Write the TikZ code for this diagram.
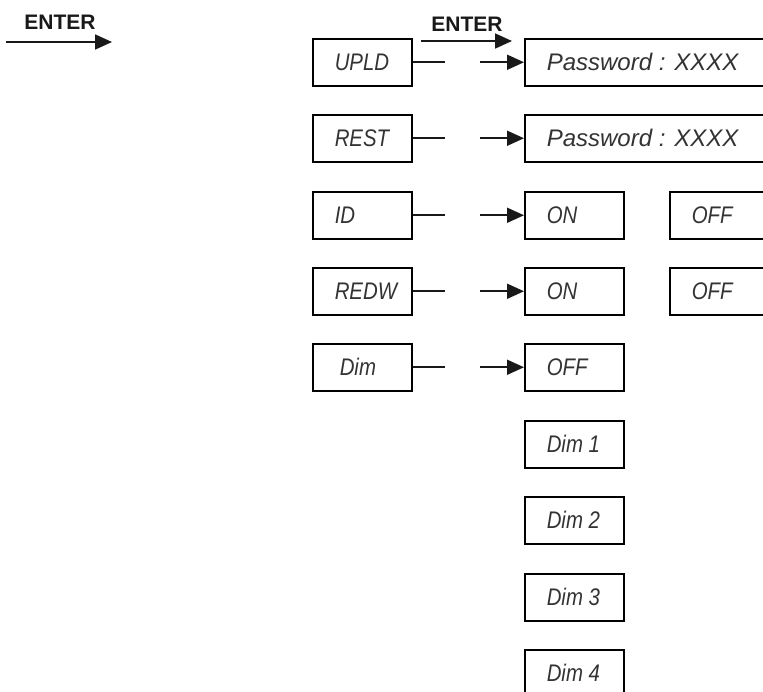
\documentclass[tikz,border=0pt]{standalone}
\usepackage{fontspec}
\setsansfont{Liberation Sans}
\newfontfamily\lcdnarrow[FakeStretch=0.85]{Liberation Sans}
\usetikzlibrary{arrows.meta}
\tikzset{
  lcdbox/.style={draw=black, line width=1.5pt, inner sep=0pt, minimum height=47pt, anchor=north west,
    font=\lcdnarrow\itshape\fontsize{24}{28}\selectfont, text=black!80},
  widebox/.style={lcdbox, font=\sffamily\itshape\fontsize{24}{28}\selectfont},
  conn/.style={line width=1.8pt, draw=black!90},
  arr/.style={conn, -{Triangle[length=17pt,width=15pt]}},
  enterlbl/.style={font=\sffamily\bfseries\fontsize{21}{25}\selectfont, text=black!90, inner sep=0pt}
}
\newcommand\lcdtxt[2]{\makebox[#1][l]{\hspace{22pt}#2}}
\begin{document}
\begin{tikzpicture}[x=1pt,y=-1pt]
\useasboundingbox (0,0) rectangle (763,691);
\clip (0,0) rectangle (763,691);
% top-left legend
\node[enterlbl] (enterA) at (60,22) {ENTER};
\coordinate (eaS) at (6,42);
\coordinate (eaE) at (112,42);
\draw[arr] (eaS) -- (eaE);
% second ENTER
\node[enterlbl] (enterB) at (467,24) {ENTER};
\coordinate (ebS) at (421,41);
\coordinate (ebE) at (512,41);
\draw[arr] (ebS) -- (ebE);
% left column
\node[lcdbox] (upld) at (312,38)  {\lcdtxt{99pt}{UPLD}};
\node[lcdbox] (rest) at (312,114) {\lcdtxt{99pt}{REST}};
\node[lcdbox] (id)   at (312,191) {\lcdtxt{99pt}{ID}};
\node[lcdbox] (redw) at (312,267) {\lcdtxt{99pt}{REDW}};
\node[lcdbox] (dim)  at (312,343) {\makebox[99pt][l]{\hspace{27pt}Dim}};
% second column
\node[widebox] (pw1) at (524,38)  {\lcdtxt{260pt}{Password : XXXX}};
\node[widebox] (pw2) at (524,114) {\lcdtxt{260pt}{Password : XXXX}};
\node[lcdbox] (on1) at (524,191) {\lcdtxt{99pt}{ON}};
\node[lcdbox] (on2) at (524,267) {\lcdtxt{99pt}{ON}};
\node[lcdbox] (doff) at (524,343) {\lcdtxt{99pt}{OFF}};
\node[lcdbox] (d1) at (524,420) {\lcdtxt{99pt}{Dim 1}};
\node[lcdbox] (d2) at (524,496) {\lcdtxt{99pt}{Dim 2}};
\node[lcdbox] (d3) at (524,573) {\lcdtxt{99pt}{Dim 3}};
\node[lcdbox] (d4) at (524,649) {\lcdtxt{99pt}{Dim 4}};
% third column
\node[lcdbox] (off1) at (669,191) {\lcdtxt{99pt}{OFF}};
\node[lcdbox] (off2) at (669,267) {\lcdtxt{99pt}{OFF}};
% connectors
\foreach \a/\b in {upld/pw1, rest/pw2, id/on1, redw/on2, dim/doff}{
  \draw[conn] (\a.east) -- ++(32,0);
  \draw[arr] ([xshift=-44pt]\b.west) -- (\b.west);
}
\end{tikzpicture}
\end{document}
